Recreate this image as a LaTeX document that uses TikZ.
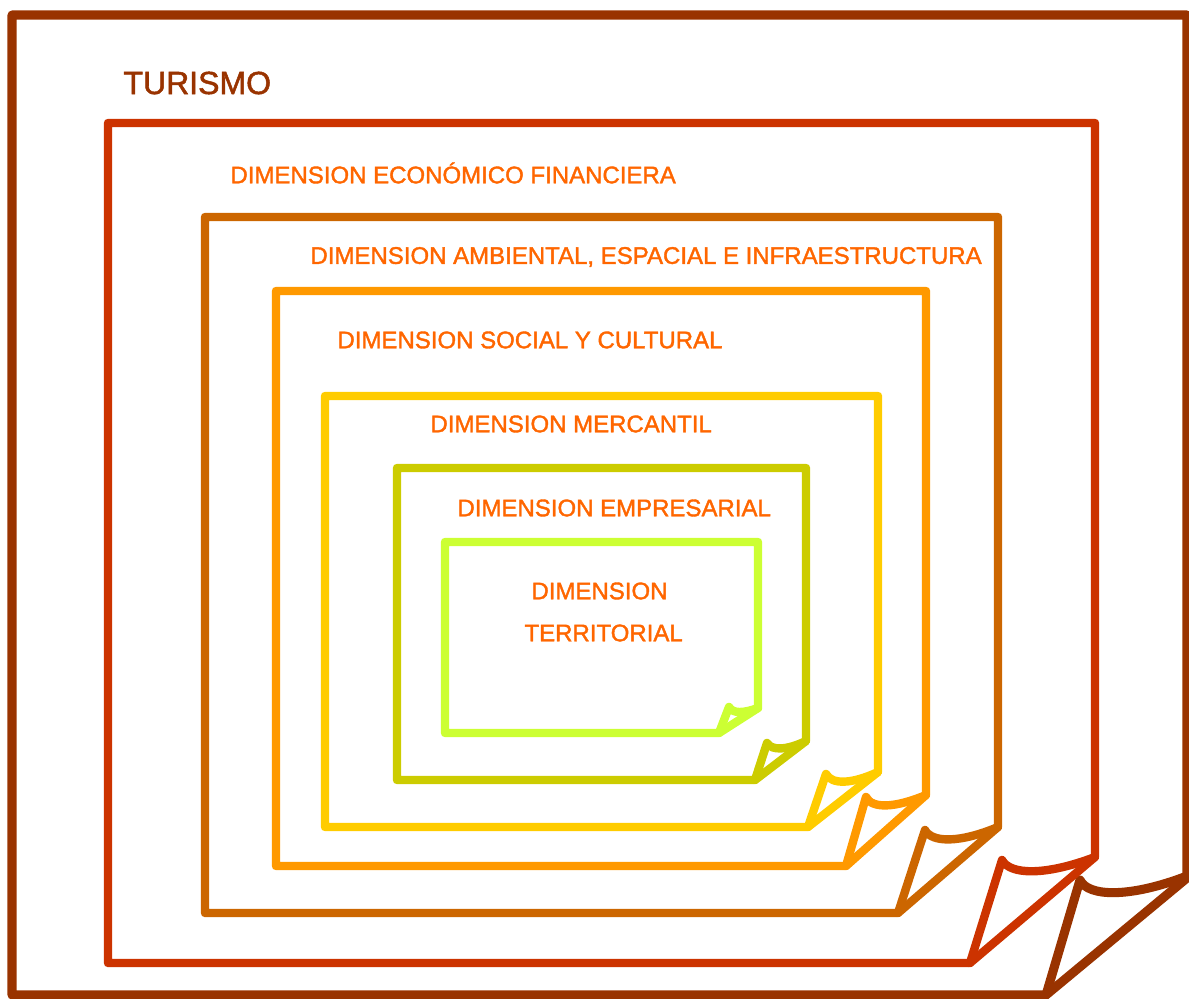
\documentclass[tikz,border=0pt]{standalone}
\usepackage{fontspec}
\setmainfont{Liberation Sans}
\newfontfamily\lblfont[FakeBold=1.6]{Liberation Sans}

\definecolor{cTur}{RGB}{153,51,0}
\definecolor{cEco}{RGB}{204,51,0}
\definecolor{cAmb}{RGB}{204,102,0}
\definecolor{cSoc}{RGB}{255,153,0}
\definecolor{cMer}{RGB}{255,204,0}
\definecolor{cEmp}{RGB}{204,204,0}
\definecolor{cTer}{RGB}{204,255,51}
\definecolor{cLbl}{RGB}{255,102,0}

\tikzset{every picture/.style={line width=0.75pt}}
\tikzset{
  frame/.style={line width=6.3pt, line join=round, line cap=round},
  dimlabel/.style={inner sep=0.75pt, text=cLbl, font=\lblfont\fontsize{18}{20}\selectfont},
}

\begin{document}
\begin{tikzpicture}[x=0.75pt,y=0.75pt,yscale=-1,xscale=1]
\useasboundingbox (0,0) rectangle (1189,999);

%Shape: Folded page [TURISMO]
\draw [frame, draw=cTur, line width=6.8pt] (12,15) -- (1187,15) -- (1187,878) -- (1046,995) -- (12,995) -- cycle ;
\draw [frame, draw=cTur, line width=6.8pt] (1046,995) -- (1080,880) .. controls (1088,897) and (1130,898) .. (1187,876) ;
%Shape: Folded page [ECONOMICO]
\draw [frame, draw=cEco] (108,123) -- (1095,123) -- (1095,857) -- (970,963) -- (108,963) -- cycle ;
\draw [frame, draw=cEco] (970,963) -- (1002,860) .. controls (1010,875) and (1045,876) .. (1095,857) ;
%Shape: Folded page [AMBIENTAL]
\draw [frame, draw=cAmb] (205,217) -- (998,217) -- (998,827) -- (898,913) -- (205,913) -- cycle ;
\draw [frame, draw=cAmb] (898,913) -- (925,830) .. controls (932,843) and (960,843) .. (998,827) ;
%Shape: Folded page [SOCIAL]
\draw [frame, draw=cSoc] (276,291) -- (926,291) -- (926,795) -- (846,866) -- (276,866) -- cycle ;
\draw [frame, draw=cSoc] (846,866) -- (866,797) .. controls (872,809) and (895,808) .. (926,795) ;
%Shape: Folded page [MERCANTIL]
\draw [frame, draw=cMer] (325,396) -- (878,396) -- (878,772) -- (808,827) -- (325,827) -- cycle ;
\draw [frame, draw=cMer] (808,827) -- (826,774) .. controls (832,785) and (852,784) .. (878,772) ;
%Shape: Folded page [EMPRESARIAL]
\draw [frame, draw=cEmp] (397,468) -- (806,468) -- (806,741) -- (755,780) -- (397,780) -- cycle ;
\draw [frame, draw=cEmp] (755,780) -- (767,743) .. controls (772,751) and (787,750) .. (806,741) ;
%Shape: Folded page [TERRITORIAL]
\draw [frame, draw=cTer] (445,542) -- (758,542) -- (758,708) -- (719,733) -- (445,733) -- cycle ;
\draw [frame, draw=cTer] (719,733) -- (729,707) .. controls (733,714) and (744,713) .. (758,708) ;

% Text Node
\node (tur) [anchor=west, inner sep=0.75pt, text=cTur, font=\lblfont\fontsize{24}{26}\selectfont] at (122,83) {TURISMO};
% Text Node
\node (eco) [dimlabel, anchor=west] at (229,173) {DIMENSION ECONÓMICO FINANCIERA};
% Text Node
\node (amb) [dimlabel, anchor=west] at (309,257) {DIMENSION AMBIENTAL, ESPACIAL E INFRAESTRUCTURA};
% Text Node
\node (soc) [dimlabel, anchor=west] at (336,340) {DIMENSION SOCIAL Y CULTURAL};
% Text Node
\node (mer) [dimlabel, anchor=west] at (429,424) {DIMENSION MERCANTIL};
% Text Node
\node (emp) [dimlabel, anchor=west] at (456,508) {DIMENSION EMPRESARIAL};
% Text Node
\node (ter1) [dimlabel, anchor=west] at (530,591) {DIMENSION};
% Text Node
\node (ter2) [dimlabel, anchor=west] at (523,633) {TERRITORIAL};

\end{tikzpicture}
\end{document}
